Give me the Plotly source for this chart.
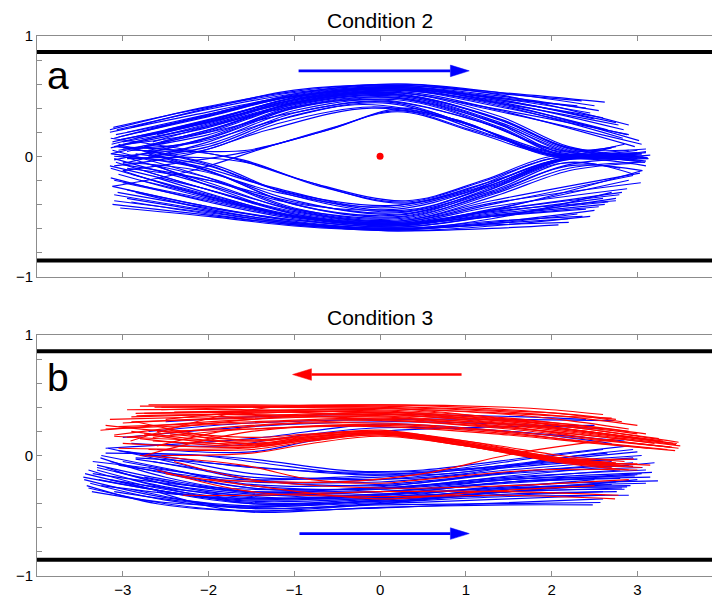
import plotly.graph_objects as go

# ---------------- data ----------------
# Condition 2 (top panel): blue trajectories moving left -> right
top_blue_upper_x = [
    [-3.11, -2.2, -1.0, 0.2, 1.4, 2.62], [-3.07, -2.2, -1.0, 0.2, 1.4, 2.55],
    [-2.95, -2.0, -1.0, 0.2, 1.4, 2.5], [-3.12, -2.0, -1.0, 0.2, 1.4, 2.84],
    [-3.14, -2.0, -1.0, 0.2, 1.4, 2.83], [-3.0, -2.0, -1.0, 0.2, 1.4, 2.97],
    [-2.85, -2.0, -1.0, 0.2, 1.4, 2.2, 3.07], [-3.14, -2.0, -1.0, 0.2, 1.4, 2.2, 3.13],
    [-3.05, -2.0, -1.0, 0.2, 1.4, 2.2, 3.09], [-2.9, -2.0, -1.0, 0.2, 1.4, 2.15, 2.94],
    [-3.1, -2.0, -1.0, 0.2, 1.4, 2.1, 3.0], [-2.75, -2.0, -1.0, 0.2, 1.4, 2.1, 2.7],
    [-3.0, -2.0, -1.0, 0.2, 1.4, 2.1, 3.15], [-2.6, -1.8, -0.8, 0.3, 1.5, 2.4],
    [-3.08, -2.1, -1.0, 0.2, 1.4, 2.75], [-2.8, -1.9, -0.9, 0.2, 1.4, 2.9],
    [-3.13, -2.1, -1.0, 0.2, 1.4, 3.05], [-2.95, -2.0, -1.0, 0.2, 1.4, 2.2, 3.1],
    [-3.05, -2.0, -1.0, 0.1, 1.2, 2.05, 2.6], [-2.7, -2.0, -1.0, 0.1, 1.2, 2.05, 2.95],
    [-3.1, -2.1, -1.0, 0.2, 1.4, 2.3], [-2.5, -1.8, -0.9, 0.2, 1.4, 2.65],
    [-3.15, -2.2, -1.1, 0.1, 1.3, 2.45], [-2.65, -1.9, -0.9, 0.2, 1.4, 2.88],
    [-3.02, -2.0, -1.0, 0.2, 1.4, 3.02],
    [-3.0, -2.1, -1.2, -0.2, 0.9, 1.9, 2.8], [-2.85, -2.0, -1.2, -0.1, 0.9, 1.95, 3.0],
    [-3.1, -2.2, -1.3, -0.1, 1.0, 2.0, 3.1], [-2.95, -2.0, -1.1, 0.0, 1.1, 2.1, 2.75],
    [-3.15, -2.1, -1.0, 0.3, 1.5, 2.5], [-2.9, -2.0, -1.0, 0.2, 1.4, 2.35],
    [-3.05, -2.0, -1.0, 0.2, 1.4, 2.6], [-2.75, -1.9, -1.0, 0.2, 1.4, 2.78],
    [-3.1, -2.0, -1.0, 0.1, 1.3, 2.2, 3.12], [-2.7, -1.9, -1.0, 0.1, 1.3, 2.2, 3.04],
    [-3.0, -2.0, -1.1, 0.0, 1.2, 2.1, 2.85], [-2.55, -1.8, -1.0, 0.1, 1.3, 2.9],
    [-3.0, -2.2, -1.6, -0.7, 0.2, 1.1, 2.0, 3.05],
    [-2.9, -2.1, -1.55, -0.6, 0.2, 1.1, 2.05, 2.9],
    [-3.12, -2.2, -1.3, -0.5, 0.3, 1.2, 2.1, 3.1],
]
top_blue_upper_y = [
    [0.24, 0.38, 0.53, 0.59, 0.53, 0.45], [0.22, 0.36, 0.52, 0.58, 0.5, 0.38],
    [0.2, 0.35, 0.5, 0.57, 0.47, 0.31], [0.12, 0.3, 0.48, 0.56, 0.45, 0.22],
    [0.07, 0.27, 0.47, 0.55, 0.42, 0.15], [0.1, 0.26, 0.46, 0.54, 0.38, 0.08],
    [0.15, 0.28, 0.45, 0.53, 0.33, 0.08, 0.0], [0.02, 0.22, 0.44, 0.52, 0.3, 0.06, -0.02],
    [0.05, 0.2, 0.43, 0.51, 0.28, 0.05, -0.05], [0.0, 0.16, 0.42, 0.5, 0.27, 0.04, 0.02],
    [-0.03, 0.15, 0.41, 0.49, 0.26, 0.03, 0.05], [0.08, 0.18, 0.4, 0.48, 0.24, 0.02, 0.07],
    [-0.06, 0.12, 0.38, 0.47, 0.23, 0.01, 0.01], [0.18, 0.32, 0.5, 0.57, 0.48, 0.4],
    [0.18, 0.32, 0.5, 0.58, 0.47, 0.28], [0.2, 0.36, 0.53, 0.6, 0.51, 0.26],
    [0.1, 0.28, 0.47, 0.53, 0.37, 0.1], [0.04, 0.21, 0.43, 0.51, 0.31, 0.07, 0.06],
    [0.0, 0.1, 0.36, 0.45, 0.22, 0.01, 0.03], [0.0, 0.08, 0.34, 0.44, 0.2, 0.0, 0.0],
    [0.15, 0.33, 0.51, 0.58, 0.48, 0.42], [0.22, 0.34, 0.5, 0.56, 0.43, 0.22],
    [0.2, 0.34, 0.49, 0.56, 0.49, 0.36], [0.12, 0.27, 0.46, 0.55, 0.41, 0.18],
    [0.14, 0.29, 0.49, 0.57, 0.44, 0.13],
    [0.06, 0.12, 0.3, 0.43, 0.3, 0.03, 0.0], [-0.02, 0.06, 0.27, 0.41, 0.3, 0.02, -0.02],
    [-0.08, 0.02, 0.22, 0.4, 0.27, 0.0, 0.04], [0.1, 0.2, 0.35, 0.46, 0.3, 0.05, 0.08],
    [0.22, 0.4, 0.54, 0.6, 0.52, 0.42], [0.24, 0.4, 0.55, 0.59, 0.52, 0.46],
    [0.16, 0.33, 0.5, 0.57, 0.46, 0.32], [0.17, 0.3, 0.47, 0.55, 0.44, 0.26],
    [0.08, 0.24, 0.44, 0.52, 0.33, 0.07, -0.01], [0.05, 0.17, 0.4, 0.49, 0.29, 0.04, -0.04],
    [0.12, 0.25, 0.4, 0.47, 0.28, 0.04, 0.1], [0.12, 0.26, 0.45, 0.53, 0.4, 0.18],
    [-0.12, -0.04, 0.03, 0.2, 0.37, 0.2, 0.01, 0.02],
    [0.05, 0.04, 0.05, 0.22, 0.38, 0.21, 0.02, -0.03],
    [-0.25, -0.12, 0.08, 0.25, 0.4, 0.22, 0.02, 0.03],
]
top_blue_lower_x = [
    [-3.03, -2.0, -1.0, 0.2, 1.3, 2.08], [-3.1, -2.0, -1.0, 0.2, 1.3, 2.19],
    [-3.12, -2.0, -1.0, 0.2, 1.3, 2.36], [-3.14, -2.0, -1.0, 0.2, 1.3, 2.55],
    [-3.0, -2.0, -1.0, 0.2, 1.3, 2.66], [-3.14, -2.0, -1.0, 0.2, 1.3, 2.79],
    [-2.9, -2.0, -1.0, 0.2, 1.3, 2.88], [-3.08, -2.0, -1.0, 0.2, 1.3, 3.04],
    [-3.0, -2.0, -1.0, 0.2, 1.3, 2.2, 2.94], [-3.12, -2.0, -1.0, 0.2, 1.3, 2.2, 3.09],
    [-2.8, -1.9, -1.0, 0.2, 1.3, 2.2, 3.12], [-3.05, -2.0, -1.0, 0.25, 1.3, 2.1, 2.98],
    [-2.95, -2.0, -1.0, 0.2, 1.3, 3.05], [-3.1, -2.0, -1.0, 0.2, 1.3, 2.7],
    [-2.85, -2.0, -1.0, 0.2, 1.3, 2.5], [-3.13, -2.1, -1.1, 0.25, 1.3, 2.1, 3.0],
    [-2.7, -1.9, -1.0, 0.25, 1.3, 2.1, 2.85], [-3.0, -2.0, -1.0, 0.2, 1.3, 2.6],
    [-3.1, -2.0, -1.0, 0.2, 1.3, 2.9], [-2.6, -1.9, -1.0, 0.2, 1.3, 2.4],
    [-3.05, -2.1, -1.1, 0.25, 1.3, 2.15, 3.1], [-2.9, -2.0, -1.0, 0.2, 1.3, 2.3],
    [-3.06, -2.0, -1.0, 0.2, 1.3, 2.75], [-2.75, -1.9, -1.0, 0.2, 1.3, 2.95],
    [-3.15, -2.1, -1.0, 0.2, 1.3, 3.03],
    [-3.0, -2.1, -1.2, 0.0, 1.0, 2.0, 2.9], [-2.85, -2.0, -1.2, 0.1, 1.1, 2.05, 3.05],
    [-3.1, -2.2, -1.3, 0.0, 1.0, 2.0, 3.1], [-2.95, -2.0, -1.0, 0.2, 1.2, 2.1, 2.8],
    [-3.12, -2.0, -1.0, 0.2, 1.3, 2.45], [-2.95, -2.0, -1.0, 0.2, 1.3, 2.2],
    [-3.05, -2.0, -1.0, 0.2, 1.3, 2.62], [-2.8, -1.9, -1.0, 0.2, 1.3, 2.82],
    [-3.1, -2.0, -1.0, 0.2, 1.3, 2.2, 3.06], [-2.7, -1.9, -1.0, 0.2, 1.3, 2.2, 2.96],
    [-3.0, -2.0, -1.1, 0.2, 1.2, 2.1, 2.9], [-2.6, -1.9, -1.0, 0.2, 1.3, 2.75],
    [-3.1, -2.2, -1.6, -0.8, 0.3, 1.2, 2.0, 3.0],
    [-2.95, -2.1, -1.5, -0.7, 0.3, 1.2, 2.05, 3.1],
    [-3.14, -2.3, -1.7, -0.9, 0.25, 1.2, 2.1, 2.92],
]
top_blue_lower_y = [
    [-0.43, -0.5, -0.58, -0.62, -0.6, -0.57], [-0.32, -0.45, -0.55, -0.61, -0.56, -0.52],
    [-0.25, -0.42, -0.54, -0.6, -0.54, -0.5], [-0.18, -0.38, -0.52, -0.59, -0.5, -0.42],
    [-0.22, -0.37, -0.51, -0.58, -0.48, -0.38], [-0.1, -0.33, -0.5, -0.57, -0.45, -0.32],
    [-0.15, -0.32, -0.49, -0.56, -0.42, -0.27], [-0.05, -0.28, -0.47, -0.55, -0.39, -0.22],
    [0.0, -0.22, -0.45, -0.54, -0.34, -0.12, -0.06], [0.05, -0.18, -0.44, -0.53, -0.32, -0.1, -0.05],
    [-0.05, -0.2, -0.43, -0.52, -0.3, -0.07, -0.02], [0.1, -0.12, -0.4, -0.5, -0.27, -0.04, 0.0],
    [-0.28, -0.42, -0.53, -0.58, -0.45, -0.12], [-0.37, -0.47, -0.56, -0.61, -0.52, -0.3],
    [-0.3, -0.44, -0.55, -0.6, -0.55, -0.45], [0.02, -0.1, -0.35, -0.48, -0.26, -0.03, 0.03],
    [0.05, -0.08, -0.33, -0.46, -0.24, -0.02, 0.01], [-0.12, -0.34, -0.5, -0.57, -0.47, -0.35],
    [-0.2, -0.36, -0.5, -0.57, -0.44, -0.2], [-0.08, -0.27, -0.48, -0.56, -0.5, -0.44],
    [0.08, -0.05, -0.3, -0.45, -0.25, -0.03, -0.08], [-0.38, -0.48, -0.57, -0.61, -0.56, -0.48],
    [-0.3, -0.43, -0.53, -0.59, -0.5, -0.35], [-0.12, -0.3, -0.48, -0.55, -0.4, -0.16],
    [-0.08, -0.26, -0.46, -0.54, -0.37, -0.14],
    [-0.05, -0.12, -0.3, -0.42, -0.28, -0.02, -0.03], [0.02, -0.08, -0.28, -0.41, -0.27, -0.03, 0.02],
    [0.0, -0.07, -0.25, -0.43, -0.3, -0.04, -0.01], [-0.1, -0.2, -0.38, -0.47, -0.3, -0.06, -0.1],
    [-0.4, -0.49, -0.57, -0.62, -0.58, -0.5], [-0.35, -0.46, -0.56, -0.6, -0.57, -0.55],
    [-0.15, -0.35, -0.5, -0.57, -0.49, -0.4], [-0.2, -0.35, -0.5, -0.56, -0.45, -0.3],
    [-0.02, -0.24, -0.44, -0.51, -0.31, -0.08, -0.12], [0.02, -0.15, -0.4, -0.49, -0.29, -0.05, -0.15],
    [-0.07, -0.2, -0.38, -0.44, -0.26, -0.03, 0.05], [-0.18, -0.33, -0.5, -0.57, -0.46, -0.37],
    [0.08, 0.04, -0.03, -0.22, -0.37, -0.2, 0.0, 0.0],
    [-0.02, -0.01, -0.06, -0.25, -0.38, -0.21, -0.01, -0.04],
    [0.15, 0.06, -0.02, -0.2, -0.39, -0.23, -0.03, -0.02],
]

# Condition 3 (bottom panel): blue moving left -> right
bot_blue_x = [
    [-3.46, -2.5, -1.5, 0.0, 1.5, 3.24], [-3.38, -2.5, -1.5, 0.0, 1.5, 2.57],
    [-3.26, -2.5, -1.5, 0.0, 1.5, 3.17], [-3.17, -2.4, -1.5, 0.0, 1.5, 3.06],
    [-3.0, -2.3, -1.5, 0.0, 1.5, 2.97], [-3.3, -2.5, -1.5, 0.0, 1.5, 2.92],
    [-2.9, -2.2, -1.5, 0.0, 1.5, 2.76], [-3.4, -2.5, -1.5, 0.0, 1.5, 2.85],
    [-3.1, -2.3, -1.5, 0.0, 1.5, 2.7], [-2.8, -2.1, -1.4, -0.3, 0.5, 1.9, 2.6],
    [-3.2, -2.3, -1.5, -0.3, 0.5, 1.9, 2.9], [-3.05, -2.3, -1.5, 0.0, 1.5, 2.95],
    [-3.35, -2.5, -1.5, 0.0, 1.5, 3.1], [-2.7, -2.1, -1.5, 0.0, 1.5, 2.8],
    [-3.25, -2.4, -1.5, 0.0, 1.5, 2.5], [-3.15, -2.4, -1.5, 0.0, 1.5, 3.0],
    [-2.95, -2.3, -1.5, -0.2, 1.0, 2.0, 2.65], [-3.45, -2.5, -1.5, 0.0, 1.5, 2.9],
    [-2.6, -2.0, -1.5, 0.0, 1.5, 2.48], [-3.3, -2.5, -1.5, 0.0, 1.5, 3.2],
    [-3.1, -2.4, -1.5, 0.0, 1.5, 2.75], [-2.85, -2.2, -1.5, 0.0, 1.5, 3.05],
    [-3.42, -2.6, -1.6, -0.2, 1.2, 2.6], [-3.2, -2.5, -1.5, 0.0, 1.5, 2.6],
    [-2.75, -2.1, -1.5, 0.0, 1.5, 2.9], [-3.35, -2.5, -1.6, -0.2, 1.0, 2.2, 3.0],
    [-3.3, -2.5, -1.5, 0.0, 1.5, 3.05], [-3.0, -2.3, -1.5, 0.0, 1.5, 2.88],
    [-3.4, -2.6, -1.5, 0.0, 1.5, 3.15], [-2.85, -2.2, -1.4, -0.2, 0.8, 2.0, 3.0],
    [-3.15, -2.3, -1.5, 0.0, 1.5, 2.8], [-2.9, -2.2, -1.5, 0.0, 1.5, 2.62],
    [-3.25, -2.4, -1.5, 0.0, 1.5, 2.95], [-3.36, -2.5, -1.5, 0.0, 1.5, 3.1],
    [-2.65, -2.1, -1.5, 0.0, 1.5, 2.7], [-3.05, -2.4, -1.5, -0.1, 1.2, 2.3, 2.95],
    [-3.28, -2.4, -1.5, 0.0, 1.5, 2.82], [-3.44, -2.5, -1.5, 0.0, 1.5, 3.0],
    [-2.7, -1.5, 0.0, 1.5, 2.72], [-3.0, -1.5, 0.0, 1.5, 2.6],
    [-2.6, -1.5, -0.8, 0.0, 1.5, 2.5], [-3.2, -1.5, 0.0, 1.5, 2.85],
    [-2.5, -1.5, 0.0, 1.2, 2.4], [-2.9, -1.8, -1.0, 0.0, 1.5, 2.7],
]
bot_blue_y = [
    [-0.18, -0.3, -0.38, -0.35, -0.25, -0.21], [-0.23, -0.37, -0.44, -0.41, -0.4, -0.39],
    [-0.02, -0.18, -0.3, -0.3, -0.2, -0.14], [0.06, -0.06, -0.2, -0.25, -0.15, -0.1],
    [-0.05, -0.14, -0.25, -0.28, -0.2, -0.17], [-0.12, -0.26, -0.35, -0.33, -0.27, -0.25],
    [-0.2, -0.32, -0.4, -0.38, -0.32, -0.3], [-0.27, -0.4, -0.46, -0.4, -0.3, -0.28],
    [-0.3, -0.38, -0.43, -0.37, -0.3, -0.24], [0.0, 0.0, -0.06, -0.15, -0.14, -0.01, 0.05],
    [0.02, 0.01, -0.03, -0.13, -0.12, 0.0, 0.08], [-0.08, -0.16, -0.22, -0.2, -0.1, -0.02],
    [-0.15, -0.23, -0.28, -0.27, -0.18, -0.12], [-0.1, -0.2, -0.27, -0.3, -0.22, -0.19],
    [-0.25, -0.32, -0.36, -0.32, -0.26, -0.2], [-0.2, -0.28, -0.33, -0.3, -0.23, -0.16],
    [0.03, -0.05, -0.15, -0.2, -0.15, -0.03, 0.02], [-0.2, -0.35, -0.42, -0.39, -0.34, -0.33],
    [-0.3, -0.42, -0.47, -0.43, -0.41, -0.41], [-0.08, -0.2, -0.3, -0.28, -0.17, -0.06],
    [-0.13, -0.25, -0.32, -0.35, -0.28, -0.22], [-0.03, -0.1, -0.18, -0.18, -0.08, 0.0],
    [-0.25, -0.4, -0.46, -0.44, -0.4, -0.36], [-0.1, -0.24, -0.34, -0.36, -0.33, -0.3],
    [-0.18, -0.26, -0.3, -0.26, -0.14, -0.08], [-0.05, -0.12, -0.2, -0.17, -0.12, -0.05, -0.03],
    [-0.1, -0.22, -0.31, -0.32, -0.22, -0.15], [-0.22, -0.33, -0.4, -0.36, -0.28, -0.26],
    [-0.12, -0.27, -0.36, -0.33, -0.22, -0.18], [-0.02, -0.05, -0.1, -0.16, -0.15, -0.04, 0.03],
    [-0.05, -0.18, -0.27, -0.27, -0.19, -0.12], [-0.28, -0.38, -0.44, -0.4, -0.36, -0.33],
    [0.0, -0.12, -0.24, -0.24, -0.14, -0.06], [-0.3, -0.39, -0.42, -0.37, -0.27, -0.23],
    [-0.05, -0.12, -0.2, -0.22, -0.12, -0.05], [0.04, -0.02, -0.1, -0.14, -0.1, 0.0, 0.05],
    [-0.2, -0.31, -0.37, -0.34, -0.3, -0.27], [-0.15, -0.3, -0.39, -0.38, -0.3, -0.2],
    [0.2, 0.27, 0.3, 0.3, 0.29], [0.15, 0.24, 0.28, 0.26, 0.22],
    [0.05, 0.03, 0.12, 0.2, 0.24, 0.25], [0.06, 0.14, 0.26, 0.2, 0.12],
    [0.28, 0.32, 0.34, 0.33, 0.3], [0.1, 0.08, 0.16, 0.23, 0.2, 0.1],
]

# Condition 3 (bottom panel): red moving right -> left
bot_red_x = [
    [3.48, 2.5, 1.5, 0.0, -1.5, -2.84], [3.5, 2.5, 1.5, 0.0, -1.5, -3.26],
    [3.0, 2.2, 1.5, 0.0, -1.5, -2.63], [2.9, 2.2, 1.5, 0.0, -1.5, -3.1],
    [2.82, 2.2, 1.5, 0.0, -1.5, -2.91], [2.96, 2.0, 1.0, 0.0, -0.8, -1.5, -2.7],
    [3.0, 2.2, 1.0, 0.0, -0.8, -1.5, -3.0], [2.8, 2.0, 1.0, 0.0, -0.7, -1.4, -2.9],
    [2.7, 2.0, 1.0, 0.0, -0.8, -1.5, -3.2], [2.9, 2.1, 1.0, 0.0, -0.8, -1.5, -2.55],
    [3.45, 2.5, 1.5, 0.0, -1.5, -2.5], [3.3, 2.4, 1.5, 0.0, -1.5, -3.0],
    [2.75, 2.1, 1.5, 0.0, -1.5, -2.7], [3.2, 2.4, 1.5, 0.0, -1.5, -2.95],
    [3.4, 2.5, 1.5, 0.0, -1.5, -2.6], [2.95, 2.2, 1.5, 0.0, -1.5, -3.15],
    [3.35, 2.5, 1.5, 0.0, -1.5, -2.75], [2.6, 2.0, 1.5, 0.0, -1.5, -2.55],
    [3.1, 2.3, 1.5, 0.0, -1.5, -2.85], [3.42, 2.5, 1.5, 0.0, -1.5, -3.05],
    [2.85, 2.1, 1.2, 0.0, -0.9, -1.6, -2.8], [3.15, 2.3, 1.0, 0.0, -0.8, -1.5, -2.45],
    [2.7, 2.0, 1.5, 0.0, -1.5, -2.4], [3.25, 2.4, 1.5, 0.0, -1.5, -2.9],
    [2.65, 2.0, 1.0, 0.0, -0.8, -1.5, -2.65], [2.95, 2.1, 1.0, 0.0, -0.9, -1.6, -3.05],
    [2.75, 2.0, 1.0, 0.0, -0.8, -1.5, -2.85], [3.05, 2.2, 1.0, 0.0, -0.8, -1.5, -2.5],
    [3.46, 2.5, 1.5, 0.0, -1.5, -2.95], [3.38, 2.4, 1.5, 0.0, -1.5, -3.2],
    [2.9, 2.2, 1.5, 0.0, -1.5, -2.55], [3.3, 2.4, 1.5, 0.0, -1.5, -2.75],
    [3.0, 2.3, 1.5, 0.0, -1.5, -2.9], [3.44, 2.5, 1.5, 0.0, -1.5, -2.65],
    [2.68, 2.0, 1.0, 0.0, -0.8, -1.5, -2.75], [2.85, 2.1, 1.0, 0.0, -0.8, -1.5, -3.1],
    [3.12, 2.3, 1.5, 0.0, -1.5, -2.6], [3.48, 2.6, 1.5, 0.0, -1.5, -2.8],
    [2.78, 1.5, 0.0, -1.5, -2.3], [2.74, 1.5, 0.0, -1.5, -2.6],
    [3.0, 1.8, 0.5, 0.0, -0.8, -1.6, -2.8], [2.9, 1.5, 0.0, -1.5, -2.4],
    [2.5, 1.2, 0.0, -1.5, -2.5], [2.9, 1.6, 0.5, -0.5, -2.0],
]
bot_red_y = [
    [0.06, 0.14, 0.22, 0.3, 0.34, 0.33], [0.08, 0.16, 0.23, 0.32, 0.3, 0.21],
    [0.25, 0.32, 0.36, 0.4, 0.41, 0.4], [0.2, 0.26, 0.3, 0.36, 0.3, 0.17],
    [0.28, 0.34, 0.38, 0.42, 0.38, 0.12], [-0.03, -0.02, 0.08, 0.17, 0.12, 0.05, 0.05],
    [-0.07, -0.05, 0.09, 0.18, 0.13, 0.07, 0.1], [-0.08, -0.03, 0.1, 0.19, 0.16, 0.1, 0.2],
    [-0.1, -0.04, 0.1, 0.2, 0.18, 0.15, 0.25], [-0.12, -0.06, 0.08, 0.16, 0.1, 0.02, 0.0],
    [0.09, 0.17, 0.25, 0.33, 0.36, 0.3], [0.12, 0.2, 0.27, 0.34, 0.32, 0.27],
    [0.3, 0.35, 0.37, 0.41, 0.42, 0.42], [0.1, 0.17, 0.23, 0.29, 0.25, 0.15],
    [0.07, 0.13, 0.2, 0.27, 0.24, 0.08], [0.15, 0.22, 0.28, 0.35, 0.33, 0.3],
    [0.05, 0.11, 0.18, 0.25, 0.2, 0.0], [0.34, 0.38, 0.4, 0.42, 0.4, 0.38],
    [0.18, 0.25, 0.31, 0.38, 0.37, 0.35], [0.1, 0.19, 0.26, 0.31, 0.28, 0.24],
    [-0.05, 0.0, 0.1, 0.19, 0.15, 0.08, 0.14], [-0.08, -0.04, 0.11, 0.21, 0.17, 0.13, 0.18],
    [0.31, 0.33, 0.35, 0.39, 0.37, 0.36], [0.14, 0.22, 0.29, 0.37, 0.35, 0.32],
    [-0.07, -0.02, 0.11, 0.19, 0.15, 0.1, 0.12], [-0.09, -0.05, 0.09, 0.17, 0.12, 0.06, 0.06],
    [-0.06, -0.01, 0.12, 0.2, 0.17, 0.12, 0.28], [-0.1, -0.06, 0.08, 0.18, 0.14, 0.09, 0.22],
    [0.1, 0.18, 0.26, 0.35, 0.38, 0.38], [0.07, 0.15, 0.24, 0.3, 0.27, 0.22],
    [0.22, 0.29, 0.34, 0.39, 0.4, 0.4], [0.11, 0.2, 0.28, 0.36, 0.36, 0.35],
    [0.18, 0.24, 0.29, 0.33, 0.31, 0.28], [0.04, 0.1, 0.17, 0.24, 0.22, 0.15],
    [-0.06, -0.02, 0.1, 0.18, 0.14, 0.08, 0.18], [-0.09, -0.04, 0.1, 0.19, 0.16, 0.12, 0.16],
    [0.06, 0.12, 0.19, 0.26, 0.22, 0.2], [0.11, 0.2, 0.3, 0.4, 0.41, 0.41],
    [-0.33, -0.3, -0.3, -0.33, -0.33], [-0.36, -0.33, -0.34, -0.3, -0.12],
    [-0.12, -0.12, -0.2, -0.23, -0.2, -0.08, 0.0], [-0.2, -0.25, -0.27, -0.2, -0.05],
    [-0.25, -0.3, -0.36, -0.25, -0.15], [0.15, 0.02, -0.15, -0.22, -0.2],
]

# channel walls, obstacle centre, direction arrows, labels
wall_y = [0.866, -0.866]
obstacle_x = [0.0]
obstacle_y = [0.0]
# (panel, tail_x, tip_x, y, colour)
arrows = [
    ("top", -0.95, 1.04, 0.71, "#0000ff"),
    ("bot", 0.95, -1.02, 0.672, "#ff0000"),
    ("bot", -0.94, 1.04, -0.648, "#0000ff"),
]
panel_titles = ["Condition 2", "Condition 3"]
panel_letters = ["a", "b"]
x_ticks = [-3, -2, -1, 0, 1, 2, 3]
y_ticks = [-1, -0.8, -0.6, -0.4, -0.2, 0, 0.2, 0.4, 0.6, 0.8, 1]
y_ticktext = ["\u22121", "", "", "", "", "0", "", "", "", "", "1"]

BLUE = "#0000ff"
RED = "#ff0000"
AXIS_GRAY = "#8c8c8c"
FONT = "Liberation Sans, Arial, sans-serif"
LW = 1.15


def joined(xs_list, ys_list):
    X, Y = [], []
    for xs, ys in zip(xs_list, ys_list):
        X += list(xs) + [None]
        Y += list(ys) + [None]
    return X, Y


fig = go.Figure()


def add_lines(xs_list, ys_list, color, xa, ya):
    X, Y = joined(xs_list, ys_list)
    fig.add_trace(go.Scatter(
        x=X, y=Y, mode="lines", xaxis=xa, yaxis=ya, showlegend=False,
        line=dict(color=color, width=LW, shape="spline", smoothing=1.0),
        connectgaps=False, hoverinfo="skip"))


add_lines(top_blue_upper_x, top_blue_upper_y, BLUE, "x", "y")
add_lines(top_blue_lower_x, top_blue_lower_y, BLUE, "x", "y")
add_lines(bot_blue_x, bot_blue_y, BLUE, "x2", "y2")
add_lines(bot_red_x, bot_red_y, RED, "x2", "y2")

fig.add_trace(go.Scatter(x=obstacle_x, y=obstacle_y, mode="markers", xaxis="x", yaxis="y",
                         marker=dict(color=RED, size=7), showlegend=False, hoverinfo="skip"))

shapes = []
for xr, yr in (("x", "y"), ("x2", "y2")):
    for wy in wall_y:
        shapes.append(dict(type="line", xref=xr, yref=yr, x0=-4.5, x1=4.5, y0=wy, y1=wy,
                           line=dict(color="black", width=4)))

HEAD_LEN = 0.22
HEAD_HALF = 0.048
for panel, tail, tip, ay, col in arrows:
    xr, yr = ("x", "y") if panel == "top" else ("x2", "y2")
    d = 1 if tip > tail else -1
    base = tip - d * HEAD_LEN
    shapes.append(dict(type="line", xref=xr, yref=yr, x0=tail, x1=base, y0=ay, y1=ay,
                       line=dict(color=col, width=2.6)))
    shapes.append(dict(type="path", xref=xr, yref=yr,
                       path=f"M {tip},{ay} L {base},{ay + HEAD_HALF} L {base},{ay - HEAD_HALF} Z",
                       fillcolor=col, line=dict(color=col, width=0.5)))

annotations = []
for title, yp in zip(panel_titles, [1.0296, 0.4778]):
    annotations.append(dict(text=title, xref="x", yref="paper", x=0, y=yp, showarrow=False,
                            xanchor="center", yanchor="middle",
                            font=dict(family=FONT, size=21, color="black")))
for letter, xr, yr, ly in zip(panel_letters, ["x", "x2"], ["y", "y2"], [0.67, 0.645]):
    annotations.append(dict(text=letter, xref=xr, yref=yr, x=-3.754, y=ly, showarrow=False,
                            xanchor="center", yanchor="middle",
                            font=dict(family=FONT, size=39, color="black")))

xcommon = dict(range=[-4, 3.87], tickvals=x_ticks, ticks="inside", ticklen=5,
               tickcolor=AXIS_GRAY, showline=True, linecolor=AXIS_GRAY, linewidth=1,
               mirror="ticks", showgrid=False, zeroline=False,
               tickfont=dict(family=FONT, size=15, color="black"))
ycommon = dict(range=[-1, 1], tickvals=y_ticks, ticktext=y_ticktext, ticks="inside",
               ticklen=5, tickcolor=AXIS_GRAY, showline=True, linecolor=AXIS_GRAY,
               linewidth=1, mirror=False, showgrid=False, zeroline=False,
               tickfont=dict(family=FONT, size=15, color="black"))

fig.update_layout(
    width=712, height=598,
    margin=dict(l=37, r=0, t=36, b=22),
    paper_bgcolor="white", plot_bgcolor="white",
    xaxis=dict(**xcommon, domain=[0, 1], anchor="y", showticklabels=False),
    yaxis=dict(**ycommon, domain=[0.5546, 1], anchor="x"),
    xaxis2=dict(**xcommon, domain=[0, 1], anchor="y2", showticklabels=True),
    yaxis2=dict(**ycommon, domain=[0, 0.4463], anchor="x2"),
    shapes=shapes, annotations=annotations,
)

fig.write_html("out.html", config={"displayModeBar": False},
               post_script="document.body.style.margin='0';document.body.style.overflow='hidden';")
